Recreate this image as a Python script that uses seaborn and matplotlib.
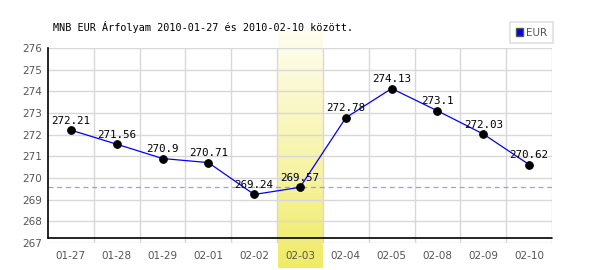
import numpy as np
import pandas as pd
import matplotlib
matplotlib.use("Agg")
import matplotlib.pyplot as plt
import seaborn as sns
from matplotlib.colors import LinearSegmentedColormap
from matplotlib.patches import Patch

dates = ["01-27", "01-28", "01-29", "02-01", "02-02", "02-03", "02-04", "02-05", "02-08", "02-09", "02-10"]
values = [272.21, 271.56, 270.9, 270.71, 269.24, 269.57, 272.78, 274.13, 273.1, 272.03, 270.62]
highlight = "02-03"
yticks = [267, 268, 269, 270, 271, 272, 273, 274, 275, 276]
title = "MNB EUR Árfolyam 2010-01-27 és 2010-02-10 között."

sns.set_theme(style="white")
plt.rcParams['font.family'] = ['DejaVu Sans Mono', 'DejaVu Sans']

df = pd.DataFrame({"date": dates, "value": values})

fig = plt.figure(figsize=(6, 2.7), dpi=100)
W, H = 600, 270
ax = fig.add_axes([48 / W, 1 - 243 / H, (552 - 48) / W, (243 - 48) / H])
fig.patch.set_facecolor("white")
ax.patch.set_alpha(0)

n = len(dates)
ax.set_xlim(-0.5, n - 0.5)
ax.set_ylim(267, 276)

# gridlines
for y in yticks:
    ax.axhline(y, color="#d8d8d8", lw=1, zorder=0)
for i in range(n):
    ax.axvline(i + 0.5, color="#d8d8d8", lw=1, zorder=0)

# highlight band gradient (extends outside axes)
hi = dates.index(highlight)
cmap = LinearSegmentedColormap.from_list("hl", ["#fefdf0", "#f8f5b0", "#f0eb66"])
grad = np.linspace(0, 1, 100).reshape(-1, 1)
bx0 = fig.add_axes([278 / W, 1 - 268 / H, 45 / W, (268 - 30) / H], zorder=-1)
bx0.imshow(grad, aspect="auto", cmap=cmap, origin="upper")
bx0.axis("off")

# reference dashed line
ax.axhline(values[hi], color="#9a9aff", lw=0.9, ls=(0, (4, 3)), zorder=1)

sns.lineplot(data=df, x="date", y="value", ax=ax, color="#0000ff", lw=0.9,
             marker="o", markersize=5.5, markerfacecolor="black",
             markeredgecolor="black", sort=False, zorder=3, legend=False)

for i, v in enumerate(values):
    ax.text(i, v + 0.2, f"{v:g}", ha="center", va="bottom", fontsize=7.8, color="black", zorder=4)

ax.set_xticks(range(n))
ax.set_xticklabels(dates, family="DejaVu Sans")
ax.set_yticks(yticks)
ax.set_yticklabels([str(t) for t in yticks], family="DejaVu Sans")
ax.tick_params(axis="both", length=0, labelsize=7.5, colors="#555555", pad=4)
ax.tick_params(axis="x", pad=6)
ax.set_xlabel("")
ax.set_ylabel("")

for s in ["top", "right", "bottom"]:
    ax.spines[s].set_visible(False)
ax.spines["left"].set_color("black")
ax.spines["left"].set_linewidth(1.2)
ax.spines["left"].set_bounds(267.22, 276)
ax.plot([-0.5, n - 0.5], [267.22, 267.22], color="black", lw=1.2, clip_on=False, zorder=5)

fig.text(53 / W, 1 - 27 / H, title, fontsize=7.3, va="center", ha="left", color="black")

leg = ax.legend(handles=[Patch(facecolor="#0000ff", edgecolor="#555555", label="EUR")],
                loc="upper right", bbox_to_anchor=(553 / W, 1 - 22 / H), bbox_transform=fig.transFigure,
                borderaxespad=0, frameon=True, prop={"family": "DejaVu Sans", "size": 7.5},
                handlelength=0.7, handleheight=0.7, borderpad=0.55, handletextpad=0.3, fancybox=False)
leg.get_frame().set_edgecolor("#d8d8d8")
leg.get_frame().set_linewidth(1.2)
for t in leg.get_texts():
    t.set_color("#555555")

fig.savefig("out.png", dpi=100)
